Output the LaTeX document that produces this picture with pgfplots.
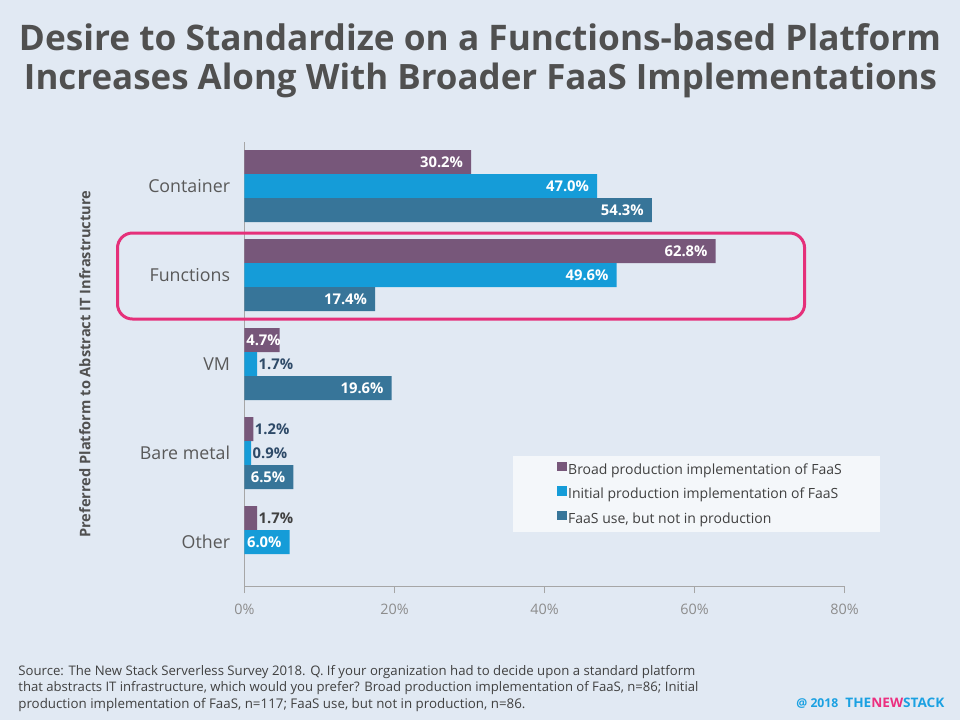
\documentclass[border=0pt]{standalone}
\usepackage{pgfplots}
\pgfplotsset{compat=1.18}
\usepackage{pgfplotstable}
\usepackage{fontspec}
\setmainfont{Open Sans}
\definecolor{bgc}{HTML}{E1E9F3}
\definecolor{purp}{HTML}{77577A}
\definecolor{cyanb}{HTML}{159CD8}
\definecolor{teal2}{HTML}{377599}
\definecolor{pinkr}{HTML}{E5307A}
\definecolor{axgray}{HTML}{A6A6A6}
\definecolor{tickgray}{HTML}{8C8C8C}
\definecolor{catgray}{HTML}{595959}
\definecolor{titlegray}{HTML}{505050}
\definecolor{labnavy}{HTML}{2E4A68}
\definecolor{labgray}{HTML}{404040}
\definecolor{legbg}{HTML}{F4F7FA}
\definecolor{logoblue}{HTML}{1BA1E2}
\definecolor{logopink}{HTML}{EC2F7F}
\pgfplotsset{/pgf/number format/assume math mode=true}

% c: 0 = inside (white), 1 = outside (navy), 2 = outside (gray)
\pgfplotstableread{
x y c dx
30.2 4 0 0
62.8 3 0 0
4.7 2 0 4.5
1.2 1 1 -3.3
1.7 0 2 -3.3
}\broad
\pgfplotstableread{
x y c dx
47.0 4 0 0
49.6 3 0 0
1.7 2 1 -3.3
0.9 1 1 -3.3
6.0 0 0 0
}\initial
\pgfplotstableread{
x y c dx
54.3 4 0 0
17.4 3 0 0
19.6 2 0 0
6.5 1 0 0
}\nonprod

\begin{document}
\begin{tikzpicture}
\fill[bgc] (0,0) rectangle (480pt,-360pt);
\fill[legbg] (256.5pt,-228pt) rectangle (440pt,-266pt);
\node[anchor=base, text=titlegray, inner sep=0pt] at (240pt,-25.35pt) {\resizebox{461pt}{!}{\bfseries Desire to Standardize on a Functions-based Platform}};
\node[anchor=base, text=titlegray, inner sep=0pt] at (240.25pt,-44.65pt) {\resizebox{456.5pt}{!}{\bfseries Increases Along With Broader FaaS Implementations}};
\begin{axis}[
  at={(122.25pt,-293.35pt)}, anchor=south west,
  width=300pt, height=222.5pt, scale only axis,
  xmin=0, xmax=80, ymin=-0.5, ymax=4.5,
  axis lines*=left, axis line style={draw=axgray, line width=0.6pt, -},
  xtick={0,20,40,60,80}, xticklabel={\pgfmathprintnumber{\tick}\%},
  tick align=outside, major tick length=3.2pt,
  x tick style={draw=axgray, line width=0.6pt},
  xticklabel style={font=\fontsize{7.2}{8}\selectfont, text=tickgray, yshift=-2pt},
  ytick={0,1,2,3,4}, yticklabels={Other,Bare metal,VM,Functions,Container},
  y tick style={draw=none},
  yticklabel style={font=\fontsize{8.9}{10}\selectfont, text=catgray, xshift=-0.5pt},
  ylabel={Preferred Platform to Abstract IT Infrastructure},
  every axis y label/.style={at={(axis description cs:-0.266,0.5)}, rotate=90, anchor=center, font=\fontsize{7.3}{8}\selectfont\bfseries, text=titlegray},
  clip=false,
  nodes near coords={\pgfmathprintnumber[fixed,fixed zerofill,precision=1]{\pgfplotspointmeta}\%},
  point meta=x,
  visualization depends on={\thisrow{c}\as\myc},
  visualization depends on={\thisrow{dx}\as\mydx},
  every node near coord/.append style={xshift=\mydx pt, font=\fontsize{7.4}{8}\selectfont\bfseries, inner xsep=3.8pt},
  every node near coord/.append code={%
    \ifdim\myc pt<0.5pt\relax \pgfkeysalso{/tikz/anchor=east,/tikz/text=white}%
    \else\ifdim\myc pt<1.5pt\relax \pgfkeysalso{/tikz/anchor=west,/tikz/text=labnavy}%
    \else \pgfkeysalso{/tikz/anchor=west,/tikz/text=labgray}\fi\fi},
  legend style={at={(axis description cs:0.5208,0.2883)}, anchor=north west, draw=none, fill=none, inner sep=0pt, font=\fontsize{7}{8}\selectfont, text=labgray, row sep=0.25pt, nodes={inner xsep=0.6pt, inner ysep=2.5pt, text height=5.3pt, text depth=1.7pt}},
  legend cell align=left,
]
\addplot[xbar, bar width=12pt, bar shift=12pt, fill=purp, draw=none,
  every node near coord/.append style={yshift=12pt},
  legend image code/.code={\fill[purp] (0pt,-0.2pt) rectangle (4.8pt,4.6pt);}]
  table[x=x, y=y] {\broad};
\addlegendentry{Broad production implementation of FaaS}
\addplot[xbar, bar width=12pt, bar shift=0pt, fill=cyanb, draw=none,
  legend image code/.code={\fill[cyanb] (0pt,-0.2pt) rectangle (4.8pt,4.6pt);}]
  table[x=x, y=y] {\initial};
\addlegendentry{Initial production implementation of FaaS}
\addplot[xbar, bar width=12pt, bar shift=-12pt, fill=teal2, draw=none,
  every node near coord/.append style={yshift=-12pt},
  legend image code/.code={\fill[teal2] (0pt,-0.2pt) rectangle (4.8pt,4.6pt);}]
  table[x=x, y=y] {\nonprod};
\addlegendentry{FaaS use, but not in production}
\end{axis}
\draw[pinkr, line width=1.5pt, rounded corners=7.5pt] (58.75pt,-116.5pt) rectangle (402.3pt,-159.5pt);
\node[anchor=base west, inner sep=0pt, text=labgray] at (9pt,-337.5pt) {\resizebox{338.5pt}{!}{\fontsize{6.5}{7}\selectfont Source: The New Stack Serverless Survey 2018. Q. If your organization had to decide upon a standard platform}};
\node[anchor=base west, inner sep=0pt, text=labgray] at (9pt,-345.5pt) {\resizebox{340pt}{!}{\fontsize{6.5}{7}\selectfont that abstracts IT infrastructure, which would you prefer? Broad production implementation of FaaS, n=86; Initial}};
\node[anchor=base west, inner sep=0pt, text=labgray] at (9pt,-354pt) {\resizebox{253.5pt}{!}{\fontsize{6.5}{7}\selectfont production implementation of FaaS, n=117; FaaS use, but not in production, n=86.}};
\node[anchor=base west, inner sep=0pt] at (398pt,-353.5pt) {\resizebox{21pt}{!}{\bfseries\color{logoblue}@ 2018}};
\node[anchor=base west, inner sep=0pt] at (422.5pt,-353.5pt) {\resizebox{49.5pt}{4.75pt}{\bfseries\color{logoblue}THE\textcolor{logopink}{NEW}STACK}};
\end{tikzpicture}
\end{document}
